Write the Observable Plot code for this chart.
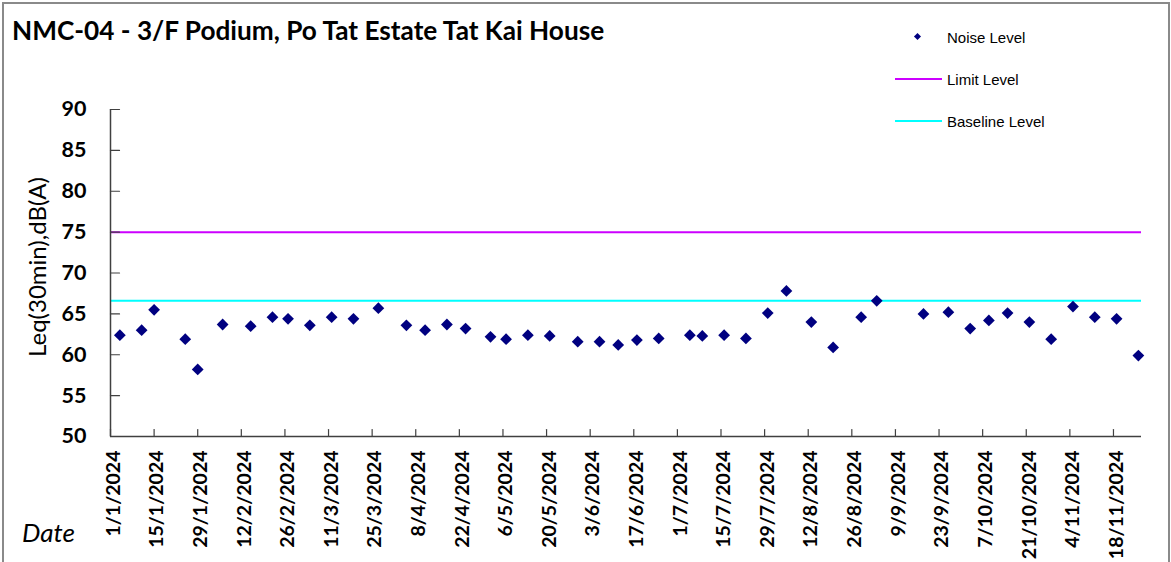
<!DOCTYPE html>
<html><head><meta charset="utf-8">
<script src="https://cdn.jsdelivr.net/npm/d3@7"></script>
<script src="https://cdn.jsdelivr.net/npm/@observablehq/plot@0.6"></script>
<style>
body{margin:0;background:#fff;}
#wrap{position:relative;width:1171px;height:562px;overflow:hidden;font-family:Lato,sans-serif;background:#fff;}
#chart{position:absolute;left:0;top:0;}
#frame{position:absolute;left:2px;top:2px;width:1168px;height:640px;border:2px solid #8a8a8a;box-sizing:border-box;pointer-events:none;}
#title{position:absolute;left:12px;top:17px;font-weight:bold;font-size:26.2px;white-space:nowrap;line-height:1;color:#000;}
.leg{position:absolute;left:947px;font-family:"Liberation Sans",Arial,sans-serif;font-size:15px;line-height:1;transform:translateY(-50%);white-space:nowrap;color:#000;}
.sw{position:absolute;left:895px;width:47px;height:2px;}
.dia{position:absolute;left:915px;top:34px;width:5px;height:5px;background:#000080;transform:rotate(45deg);}
#date{position:absolute;left:22px;top:519px;font-style:italic;font-size:26px;line-height:1;color:#000;}
</style></head>
<body>
<div id="wrap">
  <div id="chart"></div>
  <div id="frame"></div>
  <div id="title"></div>
  <div class="dia"></div>
  <div class="leg" id="leg0" style="top:37px"></div>
  <div class="sw" id="sw1" style="top:78px;background:#CC00FF"></div>
  <div class="leg" id="leg1" style="top:79px"></div>
  <div class="sw" id="sw2" style="top:120px;background:#00FFFF"></div>
  <div class="leg" id="leg2" style="top:121px"></div>
  <div id="date"></div>
</div>
<script>
const titleText = "NMC-04 - 3/F Podium, Po Tat Estate Tat Kai House";
const yTitle = "Leq(30min),dB(A)";
const xTitle = "Date";
const seriesNames = ["Noise Level", "Limit Level", "Baseline Level"];

const noiseDates = [
  "2024-01-04","2024-01-11","2024-01-15","2024-01-25","2024-01-29","2024-02-06","2024-02-15","2024-02-22",
  "2024-02-27","2024-03-05","2024-03-12","2024-03-19","2024-03-27","2024-04-05","2024-04-11","2024-04-18",
  "2024-04-24","2024-05-02","2024-05-07","2024-05-14","2024-05-21","2024-05-30","2024-06-06","2024-06-12",
  "2024-06-18","2024-06-25","2024-07-05","2024-07-09","2024-07-16","2024-07-23","2024-07-30","2024-08-05",
  "2024-08-13","2024-08-20","2024-08-29","2024-09-03","2024-09-18","2024-09-26","2024-10-03","2024-10-09",
  "2024-10-15","2024-10-22","2024-10-29","2024-11-05","2024-11-12","2024-11-19","2024-11-26"
];
const noiseValues = [
  62.4, 63.0, 65.5, 61.9, 58.2, 63.7, 63.5, 64.6,
  64.4, 63.6, 64.6, 64.4, 65.7, 63.6, 63.0, 63.7,
  63.2, 62.2, 61.9, 62.4, 62.3, 61.6, 61.6, 61.2,
  61.8, 62.0, 62.4, 62.3, 62.4, 62.0, 65.1, 67.8,
  64.0, 60.9, 64.6, 66.6, 65.0, 65.2, 63.2, 64.2,
  65.1, 64.0, 61.9, 65.9, 64.6, 64.4, 59.9
];
const limitLevel = 75;
const baselineLevel = 66.6;

const yTicks = [50, 55, 60, 65, 70, 75, 80, 85, 90];
const xTickLabels = [
  "1/1/2024","15/1/2024","29/1/2024","12/2/2024","26/2/2024","11/3/2024","25/3/2024","8/4/2024",
  "22/4/2024","6/5/2024","20/5/2024","3/6/2024","17/6/2024","1/7/2024","15/7/2024","29/7/2024",
  "12/8/2024","26/8/2024","9/9/2024","23/9/2024","7/10/2024","21/10/2024","4/11/2024","18/11/2024"
];
const xDomainLabels = ["1/1/2024", "27/11/2024"];

const parseDMY = s => { const [d, m, y] = s.split("/").map(Number); return new Date(Date.UTC(y, m - 1, d)); };
const fmtDMY = d => `${d.getUTCDate()}/${d.getUTCMonth() + 1}/${d.getUTCFullYear()}`;
const xTicks = xTickLabels.map(parseDMY);
const xDomain = xDomainLabels.map(parseDMY);
const data = noiseDates.map((d, i) => ({date: new Date(d + "T00:00:00Z"), value: noiseValues[i]}));

const axisColor = "#404040";
const tickShape = {draw(ctx, l) { ctx.moveTo(0, 0); ctx.lineTo(0, -l); }};

const chart = Plot.plot({
  width: 1171,
  height: 562,
  marginLeft: 110,
  marginRight: 30,
  marginTop: 109,
  marginBottom: 126,
  style: {fontFamily: "Lato, sans-serif", background: "transparent", color: "#000"},
  x: {type: "utc", domain: xDomain},
  y: {domain: [50, 90]},
  marks: [
    Plot.ruleY([limitLevel], {stroke: "#CC00FF", strokeWidth: 2}),
    Plot.ruleY([baselineLevel], {stroke: "#00FFFF", strokeWidth: 2}),
    Plot.ruleX([xDomain[0]], {y1: 50, y2: 90, stroke: axisColor, strokeWidth: 1.5}),
    Plot.ruleY([50], {stroke: axisColor, strokeWidth: 1.5}),
    Plot.vector(yTicks, {y: d => d, frameAnchor: "left", length: 9, rotate: 90, anchor: "start", shape: tickShape, stroke: axisColor, strokeWidth: 1.2}),
    Plot.vector(xTicks, {x: d => d, frameAnchor: "bottom", length: 7, rotate: 0, anchor: "start", shape: tickShape, stroke: axisColor, strokeWidth: 1.2}),
    Plot.axisY({ticks: yTicks, tickSize: 0, tickPadding: 24, fontSize: 21.5, fontWeight: "bold", label: null, fill: "#000"}),
    Plot.axisX({ticks: xTicks, tickFormat: fmtDMY, tickRotate: -90, tickSize: 0, tickPadding: 14, fontSize: 19.5, fontWeight: "bold", label: null, dx: 3, fill: "#000"}),
    Plot.text([yTitle], {text: d => d, frameAnchor: "left", textAnchor: "middle", dx: -72, dy: -6, rotate: -90, fontSize: 24, fill: "#000"}),
    Plot.dot(data, {x: "date", y: "value", symbol: "diamond2", r: 5.3, fill: "#000080", stroke: "none"})
  ]
});
document.getElementById("chart").appendChild(chart);
document.getElementById("title").textContent = titleText;
document.getElementById("date").textContent = xTitle;
seriesNames.forEach((s, i) => document.getElementById("leg" + i).textContent = s);
</script>
</body></html>
